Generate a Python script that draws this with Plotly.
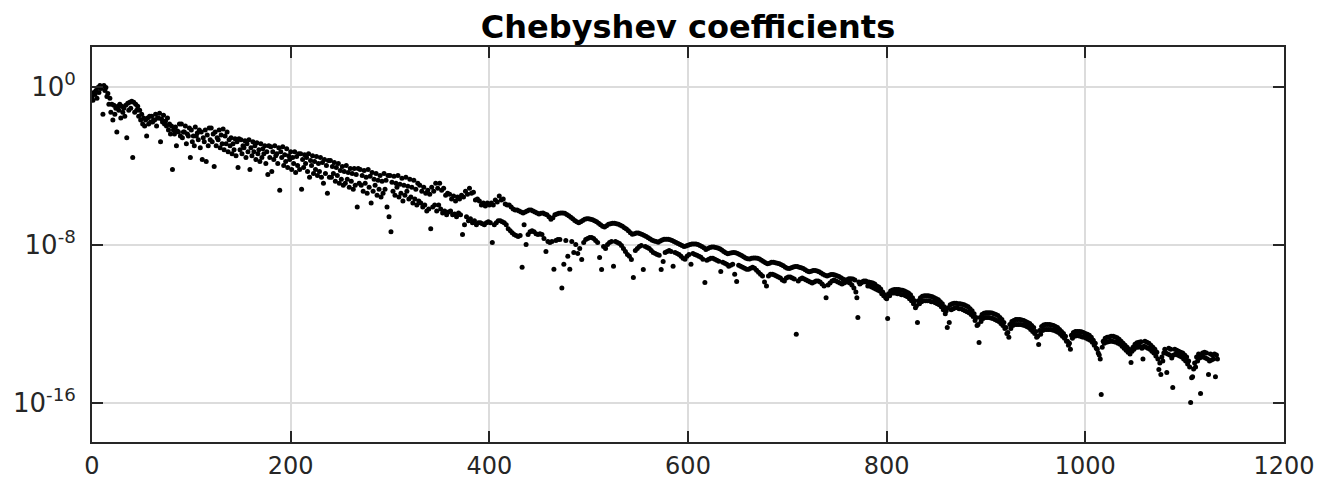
import plotly.graph_objects as go

# log10 of |coefficient| for even n (0, 2, ..., 1132)
even_exp = [
    -0.5, -0.3, -0.2, -0.05, 0.05, 0.0, 0.05, -0.05, -0.35, -0.6, -0.9, -0.95, -1.1, -1.0, -0.9,
    -1.0, -1.1, -0.95, -0.85, -0.8, -0.75, -0.8, -0.9, -1.0, -1.2, -1.4, -1.6, -1.7, -1.6, -1.5,
    -1.5, -1.7, -1.4, -1.6, -1.35, -1.65, -1.45, -1.75, -1.6, -1.9, -2.0, -2.2, -2.05, -2.25, -1.9,
    -1.9, -2.3, -2.0, -2.4, -2.1, -2.2, -2.5, -2.05, -2.35, -2.2, -2.3, -2.6, -2.2, -2.45, -2.1,
    -2.1, -2.4, -2.3, -2.6, -2.2, -2.45, -2.15, -2.5, -2.3, -2.7, -2.6, -2.9, -2.65, -2.8, -2.65,
    -2.7, -3.0, -2.75, -2.9, -2.7, -3.1, -2.8, -3.0, -2.85, -3.2, -2.9, -3.15, -3.0, -3.3, -3.0,
    -3.05, -3.3, -3.0, -3.4, -3.1, -3.3, -3.05, -3.45, -3.15, -3.5, -3.3, -3.6, -3.3, -3.55, -3.4,
    -3.4, -3.7, -3.45, -3.6, -3.4, -3.75, -3.5, -3.8, -3.55, -3.9, -3.6, -3.85, -3.7, -4.0, -3.75,
    -3.75, -4.05, -3.85, -4.1, -3.9, -4.25, -4.05, -4.3, -4.0, -4.35, -4.15, -4.4, -4.15, -4.45, -4.15,
    -4.2, -4.5, -4.25, -4.6, -4.2, -4.55, -4.35, -4.7, -4.4, -4.75, -4.5, -4.8, -4.4, -4.75, -4.5,
    -4.5, -4.85, -4.55, -4.9, -4.5, -4.95, -4.65, -5.0, -4.6, -5.05, -4.7, -5.1, -4.75, -5.2, -4.9,
    -5.0, -5.3, -5.1, -5.4, -5.25, -5.45, -5.1, -5.3, -4.9, -5.15, -4.9, -5.25, -5.15, -5.5, -5.4,
    -5.45, -5.7, -5.55, -5.8, -5.6, -5.7, -5.5, -5.6, -5.3, -5.45, -5.15, -5.4, -5.35, -5.75, -5.7,
    -5.8, -6.0, -5.9, -6.05, -5.9, -6.0, -5.9, -6.0, -5.75, -5.85, -5.55, -5.75, -5.7, -5.95, -6.0,
    -6.0, -6.1, -6.2, -6.25, -6.25, -6.3, -6.35, -6.4, -6.35, -6.3, -6.25, -6.25, -6.3, -6.35, -6.4,
    -6.45, -6.42, -6.4, -6.45, -6.5, -6.6, -6.72, -6.65, -6.5, -6.45, -6.42, -6.4, -6.4, -6.42, -6.48,
    -6.55, -6.62, -6.7, -6.78, -6.85, -6.9, -6.85, -6.78, -6.72, -6.7, -6.7, -6.72, -6.75, -6.8, -6.85,
    -6.92, -7.0, -7.08, -7.12, -7.05, -6.98, -6.95, -6.93, -6.93, -6.95, -6.98, -7.02, -7.08, -7.15, -7.22,
    -7.3, -7.4, -7.48, -7.45, -7.42, -7.42, -7.45, -7.5, -7.55, -7.6, -7.66, -7.72, -7.78, -7.82, -7.85,
    -7.88, -7.82, -7.77, -7.74, -7.73, -7.74, -7.76, -7.8, -7.85, -7.9, -7.95, -8.0, -8.05, -8.1, -8.08,
    -8.04, -8.0, -7.98, -7.97, -7.98, -8.0, -8.05, -8.1, -8.17, -8.25, -8.2, -8.15, -8.13, -8.13, -8.15,
    -8.18, -8.22, -8.28, -8.35, -8.42, -8.47, -8.44, -8.42, -8.41, -8.42, -8.45, -8.5, -8.56, -8.62, -8.68,
    -8.72, -8.74, -8.7, -8.68, -8.68, -8.7, -8.74, -8.8, -8.86, -8.92, -8.98, -8.95, -8.9, -8.9, -8.92,
    -8.95, -8.98, -9.02, -9.08, -9.15, -9.2, -9.22, -9.18, -9.14, -9.12, -9.12, -9.15, -9.18, -9.22, -9.28,
    -9.34, -9.38, -9.35, -9.32, -9.32, -9.34, -9.38, -9.44, -9.5, -9.56, -9.6, -9.56, -9.52, -9.52, -9.54,
    -9.58, -9.62, -9.68, -9.75, -9.8, -9.78, -9.74, -9.73, -9.75, -9.8, -10.7, -9.9, -9.95, -9.9, -9.88,
    -9.9, -9.9, -9.92, -9.95, -10.0, -10.1, -10.15, -10.25, -10.4, -10.55, -10.75, -10.5, -10.35, -10.3, -10.28,
    -10.28, -10.28, -10.3, -10.32, -10.35, -10.4, -10.45, -10.55, -10.7, -10.85, -11.1, -10.85, -10.7, -10.62, -10.6,
    -10.6, -10.6, -10.62, -10.65, -10.7, -10.75, -10.8, -10.9, -11.0, -11.15, -11.35, -11.2, -11.05, -11.0, -10.98,
    -10.98, -11.0, -11.0, -11.02, -11.05, -11.1, -11.15, -11.25, -11.35, -11.5, -11.7, -12.05, -11.7, -11.55, -11.48,
    -11.45, -11.45, -11.45, -11.47, -11.5, -11.55, -11.6, -11.7, -11.8, -11.95, -12.2, -12.45, -12.05, -11.9, -11.85,
    -11.8, -11.8, -11.8, -11.82, -11.85, -11.9, -11.95, -12.0, -12.1, -12.2, -12.4, -12.65, -12.35, -12.15, -12.08,
    -12.05, -12.05, -12.05, -12.07, -12.1, -12.15, -12.2, -12.3, -12.4, -12.5, -12.65, -12.9, -13.0, -12.6, -12.45,
    -12.4, -12.4, -12.4, -12.42, -12.45, -12.5, -12.55, -12.6, -12.7, -12.85, -13.0, -13.3, -13.6, -15.6, -12.9,
    -12.75, -12.7, -12.68, -12.65, -12.65, -12.68, -12.72, -12.8, -12.9, -13.0, -13.1, -13.2, -13.3, -13.97, -13.2,
    -13.05, -12.98, -12.95, -12.92, -13.8, -12.9, -12.95, -13.0, -13.1, -13.2, -13.3, -13.45, -14.33, -14.58, -13.9,
    -13.3, -14.48, -13.25, -13.3, -15.24, -13.3, -13.35, -13.4, -13.45, -13.5, -13.6, -13.7, -13.9, -16.0, -14.7,
    -14.0, -13.7, -13.55, -15.55, -13.5, -13.45, -13.5, -14.58, -13.55, -13.6, -13.55, -13.6,
]

# log10 of |coefficient| for odd n (1, 3, ..., 1133)
odd_exp = [
    -0.7, -0.4, -0.6, -0.3, -0.1, -1.4, -0.2, -0.5, -0.9, -1.3, -1.7, -1.4, -2.3, -1.2, -1.6,
    -1.3, -1.5, -2.6, -1.2, -1.1, -3.6, -1.3, -1.2, -1.5, -1.7, -1.9, -2.0, -2.5, -1.9, -1.8,
    -1.8, -1.7, -2.0, -1.6, -2.8, -1.8, -1.9, -2.0, -2.2, -2.4, -4.2, -2.4, -3.0, -2.3, -2.5,
    -2.6, -2.3, -2.9, -2.5, -3.6, -2.8, -3.0, -2.5, -2.7, -3.1, -3.7, -2.8, -3.8, -3.0, -2.7,
    -2.8, -4.05, -3.0, -2.7, -3.1, -2.9, -3.2, -2.9, -3.3, -3.0, -3.4, -3.2, -3.5, -4.1, -3.2,
    -3.4, -3.1, -3.6, -3.3, -4.2, -3.5, -3.3, -3.7, -3.4, -3.8, -3.6, -3.4, -3.9, -4.45, -3.6,
    -4.3, -3.7, -3.5, -3.9, -5.25, -3.6, -4.0, -3.8, -4.1, -3.7, -4.2, -3.9, -4.35, -4.0, -4.2,
    -5.2, -4.1, -3.9, -4.3, -4.6, -4.0, -4.4, -4.2, -4.5, -4.3, -4.6, -4.9, -4.4, -5.4, -4.6,
    -4.6, -4.4, -4.8, -4.5, -4.9, -4.7, -5.0, -4.9, -4.7, -5.1, -4.8, -5.2, -5.0, -6.1, -4.9,
    -5.0, -5.3, -4.9, -5.4, -5.1, -5.9, -5.3, -5.0, -5.5, -5.2, -5.6, -5.4, -5.2, -6.1, -6.6,
    -7.35, -5.3, -5.5, -5.1, -5.6, -5.4, -5.8, -5.5, -5.3, -5.7, -5.6, -5.9, -5.7, -6.0, -5.8,
    -5.9, -6.1, -6.0, -6.3, -6.2, -7.2, -6.1, -6.0, -6.3, -6.0, -6.2, -6.4, -6.3, -6.5, -6.35,
    -6.3, -6.5, -6.45, -6.6, -6.4, -6.5, -7.5, -7.0, -6.6, -6.8, -6.7, -6.9, -6.8, -7.0, -6.9,
    -6.9, -6.95, -7.0, -6.9, -6.85, -6.9, -7.9, -7.0, -6.9, -6.8, -6.8, -6.85, -6.9, -7.0, -7.2,
    -7.3, -7.4, -7.5, -7.55, -7.6, -7.55, -9.15, -7.0, -8.0, -7.5, -7.35, -7.3, -7.35, -7.45, -7.5,
    -7.45, -7.5, -7.7, -8.35, -7.85, -7.9, -7.85, -9.25, -7.8, -7.75, -7.75, -10.2, -9.0, -7.8, -8.6,
    -9.25, -7.85, -8.4, -8.0, -8.45, -8.2, -8.76, -7.9, -7.75, -7.7, -7.65, -7.65, -7.7, -7.8, -7.9,
    -8.66, -9.27, -8.1, -8.2, -8.0, -7.9, -7.85, -9.1, -7.85, -7.9, -7.95, -8.05, -8.2, -8.35, -8.5,
    -8.6, -8.76, -9.67, -8.3, -8.2, -8.1, -8.05, -9.27, -8.1, -8.15, -8.2, -8.3, -8.4, -8.45, -8.5,
    -8.55, -9.27, -8.86, -8.4, -8.35, -8.3, -8.35, -9.1, -8.4, -8.45, -8.5, -8.6, -8.7, -8.75, -8.6,
    -8.5, -9.0, -8.45, -8.5, -8.55, -8.6, -8.65, -8.75, -9.92, -8.8, -8.75, -8.7, -8.7, -8.75, -8.8,
    -8.85, -9.37, -8.9, -8.95, -9.0, -9.1, -9.05, -9.0, -9.5, -9.87, -9.05, -9.1, -9.15, -9.2, -9.25,
    -9.25, -9.2, -9.15, -9.2, -9.3, -9.4, -9.5, -9.6, -9.9, -10.1, -9.6, -9.5, -9.5, -9.55, -9.6,
    -9.65, -9.7, -9.8, -9.85, -9.7, -9.65, -9.65, -9.7, -9.75, -12.55, -9.85, -9.75, -9.7, -9.75, -9.8,
    -9.85, -9.9, -9.95, -9.9, -9.85, -9.85, -9.9, -10.0, -10.1, -10.7, -10.05, -9.95, -9.85, -9.8, -9.85,
    -9.9, -9.95, -10.0, -9.95, -9.9, -9.9, -9.95, -10.05, -10.2, -10.4, -11.7, -10.0, -9.9, -9.85, -9.85,
    -10.1, -10.1, -10.15, -10.2, -10.25, -10.3, -10.35, -10.5, -10.6, -10.7, -11.75, -10.6, -10.45, -10.45, -10.45,
    -10.5, -10.5, -10.55, -10.55, -10.6, -10.65, -10.75, -10.85, -11.0, -11.2, -11.95, -11.0, -10.9, -10.85, -10.85,
    -10.85, -10.85, -10.9, -10.9, -10.95, -11.0, -11.05, -11.15, -11.3, -11.5, -12.2, -11.95, -11.3, -11.25, -11.2,
    -11.2, -11.25, -11.25, -11.3, -11.35, -11.4, -11.45, -11.55, -11.65, -11.85, -12.1, -12.96, -11.9, -11.75, -11.7,
    -11.7, -11.7, -11.72, -11.75, -11.8, -11.85, -11.9, -12.0, -12.1, -12.25, -12.5, -12.7, -12.25, -12.1, -12.05,
    -12.05, -12.05, -12.05, -12.08, -12.1, -12.15, -12.2, -12.3, -12.4, -12.5, -12.7, -13.06, -12.55, -12.35, -12.3,
    -12.3, -12.3, -12.3, -12.33, -12.35, -12.4, -12.45, -12.55, -12.65, -12.75, -12.9, -13.1, -13.3, -12.75, -12.65,
    -12.62, -12.62, -12.65, -12.68, -12.7, -12.75, -12.8, -12.85, -12.95, -13.1, -13.25, -13.5, -13.8, -13.2, -13.0,
    -12.95, -12.92, -12.9, -12.9, -12.92, -12.95, -13.0, -13.05, -13.15, -13.25, -13.35, -13.45, -13.55, -13.4, -13.3,
    -13.2, -13.2, -13.15, -13.25, -13.15, -13.2, -13.25, -13.3, -13.4, -13.5, -13.65, -13.8, -14.0, -13.7, -13.5,
    -13.5, -13.55, -13.6, -13.75, -13.6, -13.55, -13.6, -13.65, -13.7, -13.8, -13.9, -14.05, -14.2, -14.75, -14.3,
    -14.2, -13.9, -13.75, -13.7, -13.7, -13.75, -13.8, -13.9, -13.85, -13.8, -14.7, -13.8,
]

x_ticks = [0, 200, 400, 600, 800, 1000, 1200]
y_ticks = [1e-16, 1e-8, 1e0]
y_tick_text = ["10<sup>-16</sup>", "10<sup>-8</sup>", "10<sup>0</sup>"]

pairs = [(2 * i, 10 ** e) for i, e in enumerate(even_exp)]
pairs += [(2 * i + 1, 10 ** e) for i, e in enumerate(odd_exp)]
pairs.sort()
n_vals = [p[0] for p in pairs]
coef_vals = [p[1] for p in pairs]

INK = "#262626"
FONT = "DejaVu Sans"

fig = go.Figure(
    go.Scatter(
        x=n_vals, y=coef_vals, mode="markers",
        marker=dict(color="black", size=5, line=dict(width=0)),
        hoverinfo="skip",
    )
)

axis_common = dict(
    showgrid=True, gridcolor="#dcdcdc", gridwidth=1.5,
    ticks="inside", ticklen=11, tickwidth=2, tickcolor=INK,
    showline=True, linecolor=INK, linewidth=2, mirror="ticks",
    zeroline=False, automargin=False,
)

fig.update_xaxes(range=[0, 1200], tickvals=x_ticks, ticklabelstandoff=1,
                 tickfont=dict(family=FONT, size=24, color=INK), **axis_common)
fig.update_yaxes(type="log", range=[-18, 2], tickvals=y_ticks, ticktext=y_tick_text,
                 ticklabelstandoff=9, tickfont=dict(family=FONT, size=26, color=INK),
                 **axis_common)

fig.update_layout(
    width=1322, height=481,
    margin=dict(l=92, r=38, t=47, b=39),
    paper_bgcolor="white", plot_bgcolor="white",
    showlegend=False,
    title=dict(
        text="<b>Chebyshev coefficients</b>",
        font=dict(family=FONT, size=32, color="black"),
        x=0.5, xref="paper", xanchor="center",
        y=1 - 27 / 481, yref="container", yanchor="middle",
    ),
)

fig.write_html("out.html", config={"displayModeBar": False},
               post_script="document.body.style.margin='0px';")
